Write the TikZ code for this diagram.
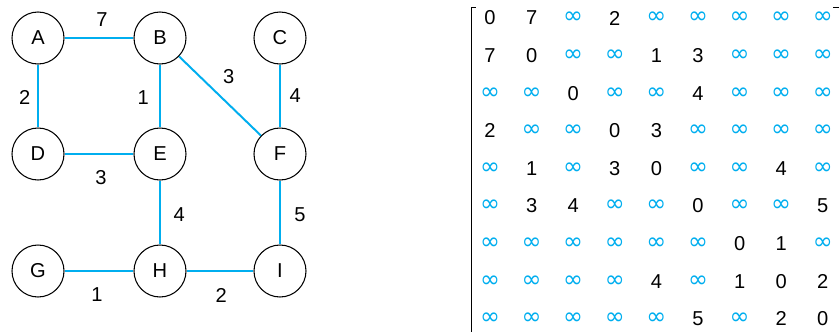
\documentclass[tikz,border=0pt]{standalone}
\usepackage{fontspec}
\setmainfont{Liberation Sans}
\newfontfamily\symfont{DejaVu Sans}
\usetikzlibrary{matrix,calc}
\definecolor{kantblaa}{RGB}{0,174,239}
\newcommand{\uendelig}{\textcolor{kantblaa}{\symfont\fontsize{17}{17}\selectfont ∞}}

\begin{document}
\begin{tikzpicture}[
    knute/.style={draw, circle, line width=0.75pt, minimum size=1.3cm, inner sep=0pt, font=\fontsize{14.3}{16}\selectfont},
    kant/.style={draw=kantblaa, line width=1.4pt},
    vekt/.style={midway, font=\fontsize{14.3}{16}\selectfont}
]
    \clip (0,0) rectangle (20.975,-8.275);

    % Noder
    \node[knute] (A) at (0.95,-0.95) {A};
    \node[knute] (B) at (4.0,-0.95) {B};
    \node[knute] (C) at (7.0,-0.95) {C};
    \node[knute] (D) at (0.95,-3.85) {D};
    \node[knute] (E) at (4.0,-3.85) {E};
    \node[knute] (F) at (7.0,-3.85) {F};
    \node[knute] (G) at (0.95,-6.775) {G};
    \node[knute] (H) at (4.0,-6.775) {H};
    \node[knute] (I) at (7.0,-6.775) {I};

    % Kanter med vekter
    \draw[kant] (A) -- (B) node[vekt, xshift=0.075cm, yshift=0.45cm] {7};
    \draw[kant] (A) -- (D) node[vekt, xshift=-0.33cm, yshift=-0.03cm] {2};
    \draw[kant] (B) -- (E) node[vekt, xshift=-0.42cm, yshift=-0.03cm] {1};
    \draw[kant] (B) -- (F) node[vekt, xshift=0.22cm, yshift=0.48cm] {3};
    \draw[kant] (C) -- (F) node[vekt, xshift=0.38cm] {4};
    \draw[kant] (D) -- (E) node[vekt, xshift=0.05cm, yshift=-0.58cm] {3};
    \draw[kant] (E) -- (H) node[vekt, xshift=0.48cm, yshift=-0.05cm] {4};
    \draw[kant] (F) -- (I) node[vekt, xshift=0.5cm, yshift=-0.05cm] {5};
    \draw[kant] (G) -- (H) node[vekt, xshift=-0.05cm, yshift=-0.6cm] {1};
    \draw[kant] (H) -- (I) node[vekt, xshift=0.03cm, yshift=-0.6cm] {2};

    % Naboskapsmatrise
    \matrix (adj) [matrix of nodes, inner sep=0pt, column sep=0pt, row sep=0pt,
        nodes={anchor=center, minimum width=1.04cm, minimum height=0.94cm, inner sep=0pt, font=\fontsize{14.3}{16}\selectfont}]
        at (16.41,-4.21) {
        0 & 7 & \uendelig & 2 & \uendelig & \uendelig & \uendelig & \uendelig & \uendelig \\
        7 & 0 & \uendelig & \uendelig & 1 & 3 & \uendelig & \uendelig & \uendelig \\
        \uendelig & \uendelig & 0 & \uendelig & \uendelig & 4 & \uendelig & \uendelig & \uendelig \\
        2 & \uendelig & \uendelig & 0 & 3 & \uendelig & \uendelig & \uendelig & \uendelig \\
        \uendelig & 1 & \uendelig & 3 & 0 & \uendelig & \uendelig & 4 & \uendelig \\
        \uendelig & 3 & 4 & \uendelig & \uendelig & 0 & \uendelig & \uendelig & 5 \\
        \uendelig & \uendelig & \uendelig & \uendelig & \uendelig & \uendelig & 0 & 1 & \uendelig \\
        \uendelig & \uendelig & \uendelig & \uendelig & 4 & \uendelig & 1 & 0 & 2 \\
        \uendelig & \uendelig & \uendelig & \uendelig & \uendelig & 5 & \uendelig & 2 & 0 \\
    };

    % Klammer
    \draw[line width=0.8pt] ($(adj.north west)+(0.17,-0.22)$) -- ($(adj.north west)+(0.07,-0.22)$) -- ($(adj.south west)+(0.07,-0.3)$);
    \draw[line width=0.8pt] ($(adj.north east)+(-0.26,-0.22)$) -- ($(adj.north east)+(-0.07,-0.22)$) -- ($(adj.south east)+(-0.07,-0.3)$);
\end{tikzpicture}
\end{document}
